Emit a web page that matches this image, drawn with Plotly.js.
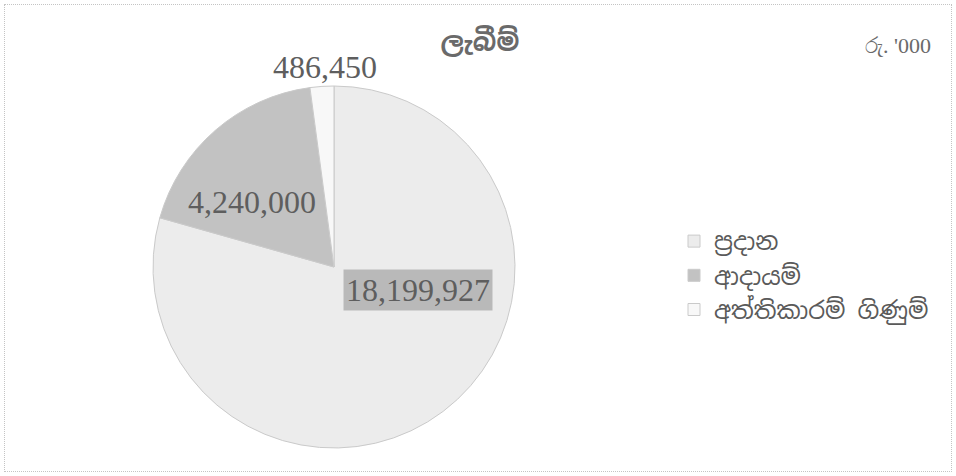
<!DOCTYPE html>
<html>
<head>
<meta charset="utf-8">
<script src="https://cdn.plot.ly/plotly-3.0.1.min.js"></script>
<style>
html,body{margin:0;padding:0;background:#fff;}
#chart{width:956px;height:476px;}
#frame{position:absolute;left:4px;top:4px;width:946px;height:466px;border:1px dotted #c4c4c4;pointer-events:none;}
</style>
</head>
<body>
<div id="chart"></div>
<div id="frame"></div>
<script>
// Data
const categories = ['ප්‍රදාන', 'ආදායම්', 'අත්තිකාරම් ගිණුම්'];
const values = [18199927, 4240000, 486450];
const titleText = 'ලැබීම්';
const unitText = "රු. '000";

// Styling (not data)
const sliceColors = ['#ececec', '#c2c2c2', '#f8f8f8'];
const labelPos = [
  {x: 418, y: 290, bg: '#b9b9b9'},
  {x: 252, y: 202, bg: 'rgba(0,0,0,0)'},
  {x: 325, y: 67, bg: 'rgba(0,0,0,0)'}
];
const W = 956, H = 476;
const sinhalaFont = '"Noto Sans Sinhala", "Iskoola Pota", "Noto Sans", sans-serif';
const numFont = '"Liberation Serif", "DejaVu Serif", serif';

const trace = {
  type: 'pie',
  labels: categories,
  values: values,
  sort: false,
  direction: 'clockwise',
  rotation: 0,
  textinfo: 'none',
  hoverinfo: 'label+value',
  marker: {colors: sliceColors, line: {color: '#cacaca', width: 1}},
  domain: {x: [153/W, 515/W], y: [1 - 448/H, 1 - 86/H]}
};

const annotations = values.map((v, i) => ({
  xref: 'paper', yref: 'paper',
  x: labelPos[i].x / W, y: 1 - labelPos[i].y / H,
  xanchor: 'center', yanchor: 'middle',
  text: v.toLocaleString('en-US'),
  showarrow: false,
  font: {family: numFont, size: 32, color: '#5e5e5e'},
  bgcolor: labelPos[i].bg,
  borderpad: 2
}));
annotations.push({
  xref: 'paper', yref: 'paper',
  x: 898 / W, y: 1 - 45 / H,
  xanchor: 'center', yanchor: 'middle',
  text: unitText, showarrow: false,
  font: {family: numFont, size: 22, color: '#6a6a6a'}
});

const layout = {
  width: W, height: H,
  margin: {l: 0, r: 0, t: 0, b: 0},
  paper_bgcolor: '#ffffff',
  title: {
    text: '<b>' + titleText + '</b>',
    x: 480 / W, y: 1 - 42 / H, xanchor: 'center', yanchor: 'middle',
    font: {family: sinhalaFont, size: 26, color: '#6a6a6a'}
  },
  showlegend: true,
  legend: {
    x: 674 / W, y: 1 - 219 / H, xanchor: 'left', yanchor: 'top',
    font: {family: sinhalaFont, size: 24, color: '#5a5a5a'},
    bgcolor: 'rgba(0,0,0,0)',
    traceorder: 'normal'
  },
  annotations: annotations
};

Plotly.newPlot('chart', [trace], layout, {displayModeBar: false, staticPlot: true});
</script>
</body>
</html>
